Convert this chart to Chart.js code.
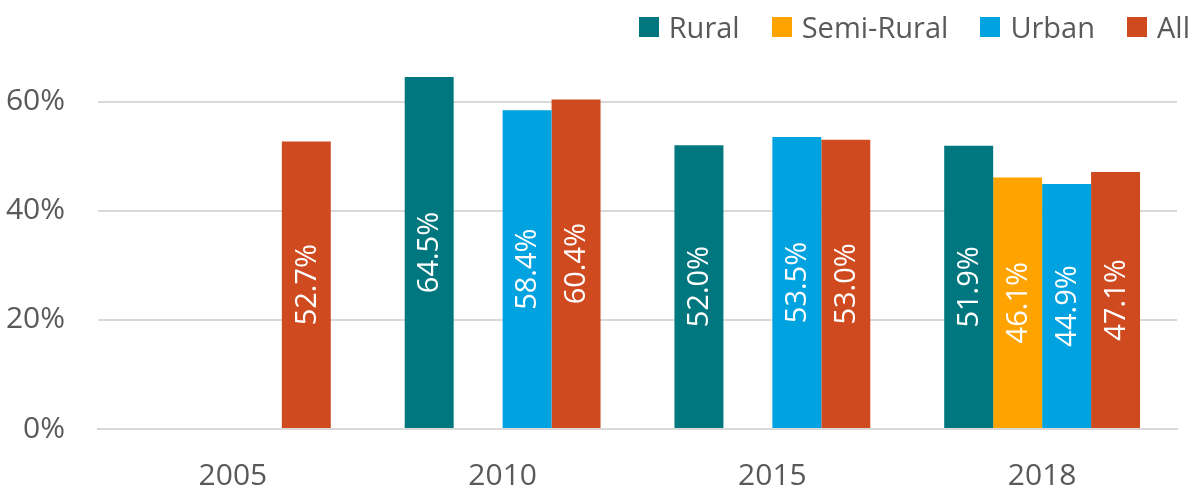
<!DOCTYPE html>
<html>
<head>
<meta charset="utf-8">
<script src="https://cdn.jsdelivr.net/npm/chart.js@4"></script>
<style>
  html, body { margin: 0; padding: 0; background: #fff; }
  #wrap { position: relative; width: 1198px; height: 493px; }
  #legende { position: absolute; top: 12px; right: 8px; display: flex; align-items: center;
             font-family: "Open Sans", "Noto Sans", sans-serif; font-size: 29px; color: #595959; line-height: 29px; }
  #legende .item { display: flex; align-items: center; margin-left: 32px; }
  #legende .carre { width: 20px; height: 20px; margin-right: 10px; }
</style>
</head>
<body>
<div id="wrap">
  <canvas id="graphique" width="1198" height="493"></canvas>
  <div id="legende"></div>
</div>
<script>
const annees = ['2005', '2010', '2015', '2018'];
const series = ['Rural', 'Semi-Rural', 'Urban', 'All'];
const couleurs = ['#00777f', '#ffa300', '#00a3e0', '#d04a20'];
const rural = [null, 0.645, 0.520, 0.519];
const semiRural = [null, null, null, 0.461];
const urbain = [null, 0.584, 0.535, 0.449];
const tous = [0.527, 0.604, 0.530, 0.471];
const ticksY = [0, 0.2, 0.4, 0.6];

const police = '"Open Sans", "Noto Sans", sans-serif';

// etiquettes blanches verticales au milieu des barres
const etiquettes = {
  id: 'etiquettes',
  afterDatasetsDraw(chart) {
    const ctx = chart.ctx;
    ctx.save();
    ctx.fillStyle = '#ffffff';
    ctx.font = '29px ' + police;
    ctx.textAlign = 'center';
    ctx.textBaseline = 'middle';
    chart.data.datasets.forEach((ds, i) => {
      const meta = chart.getDatasetMeta(i);
      meta.data.forEach((bar, j) => {
        const v = ds.data[j];
        if (v == null) return;
        const cy = (bar.y + bar.base) / 2;
        ctx.save();
        ctx.translate(bar.x, cy);
        ctx.rotate(-Math.PI / 2);
        ctx.fillText((v * 100).toFixed(1) + '%', 0, 1);
        ctx.restore();
      });
    });
    ctx.restore();
  }
};

const valeurs = [rural, semiRural, urbain, tous];

const ctx = document.getElementById('graphique').getContext('2d');
const graphique = new Chart(ctx, {
  type: 'bar',
  data: {
    labels: annees,
    datasets: series.map((nom, i) => ({ label: nom, data: valeurs[i], backgroundColor: couleurs[i] }))
  },
  options: {
    responsive: false,
    animation: false,
    layout: { padding: { left: 0, right: 21, top: 47, bottom: 0 } },
    datasets: { bar: { barPercentage: 1, categoryPercentage: 0.726, skipNull: false } },
    plugins: {
      tooltip: { enabled: false },
      legend: { display: false }
    },
    scales: {
      x: {
        afterFit(axis) { axis.height = 64; },
        grid: { display: false, drawTicks: false },
        border: { color: '#d9d9d9', width: 2 },
        ticks: { color: '#595959', padding: 29, font: { family: police, size: 30 } }
      },
      y: {
        min: 0,
        max: 0.7,
        afterBuildTicks(axis) { axis.ticks = ticksY.map(v => ({ value: v })); },
        afterFit(axis) {
          axis.width = 98;
          axis.paddingTop = 0;
          axis.paddingBottom = 0;
        },
        grid: { color: '#d9d9d9', lineWidth: 2, drawTicks: false },
        border: { display: false },
        ticks: {
          color: '#595959',
          padding: 33,
          font: { family: police, size: 30 },
          callback: v => Math.round(v * 100) + '%'
        }
      }
    }
  },
  plugins: [etiquettes]
});

// legende en html
const legende = document.getElementById('legende');
graphique.data.datasets.forEach(ds => {
  const item = document.createElement('span');
  item.className = 'item';
  item.innerHTML = '<span class="carre" style="background:' + ds.backgroundColor + '"></span>' + ds.label;
  legende.appendChild(item);
});
</script>
</body>
</html>
